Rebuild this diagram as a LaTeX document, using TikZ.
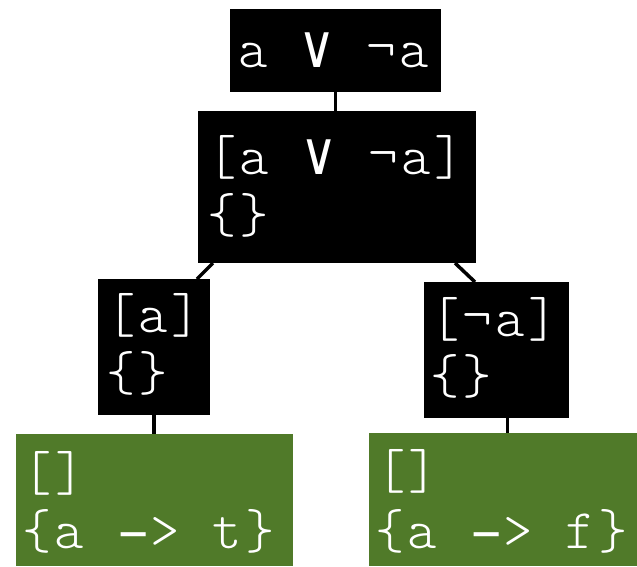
\documentclass[tikz,border=0pt]{standalone}
\usepackage{fontspec}
\usepackage{graphicx}
\usetikzlibrary{calc}
\newfontfamily\monolt{lmmonolt10-regular.otf}[LetterSpace=6.4]
\newfontfamily\orfont{DejaVu Sans}
\newfontfamily\dashfont{DejaVu Sans}
\newcommand\mycell{33pt}
\newcommand\myor{\makebox[\mycell][c]{\orfont\fontsize{60pt}{60pt}\selectfont\scalebox{0.85}[1]{∨}}}
\newcommand\mydash{\makebox[\mycell][c]{\dashfont\fontsize{56pt}{56pt}\selectfont\scalebox{1.7}[0.9]{-}}}
\definecolor{leafgreen}{RGB}{80,122,41}
\begin{document}
\begin{tikzpicture}[x=1pt,y=-1pt,
  box/.style={fill=black, draw=none, inner sep=0pt, outer sep=0pt, anchor=north west},
  leaf/.style={box, fill=leafgreen},
  txt/.style={text=white, anchor=base west, inner sep=0pt, outer sep=0pt,
    font=\monolt\fontsize{56pt}{56pt}\selectfont},
  link/.style={line width=3.5pt, draw=black}]
\useasboundingbox (0,0) rectangle (637,566);
\node[box, minimum width=211pt, minimum height=83pt] (top) at (230,9) {};
\node[box, minimum width=278pt, minimum height=152pt] (mid) at (198,111) {};
\node[box, minimum width=112pt, minimum height=136pt] (lft) at (98,279) {};
\node[box, minimum width=145pt, minimum height=136pt] (rgt) at (424,282) {};
\node[leaf, minimum width=277pt, minimum height=132pt] (gl) at (16,434) {};
\node[leaf, minimum width=268pt, minimum height=133pt] (gr) at (369,433) {};
% texts
\node[txt] (t1) at (238,67) {a \myor{} ¬a};
\node[txt] (m1) at (207,174.5) {[a \myor{} ¬a]};
\node[txt] (m2) at (207,232) {\{\}};
\node[txt] (l1) at (106,332) {[a]};
\node[txt] (l2) at (106,390) {\{\}};
\node[txt] (r1) at (430,336) {[¬a]};
\node[txt] (r2) at (430,393) {\{\}};
\node[txt] (g1) at (23,490) {[]};
\node[txt] (g2) at (22,548) {\{a \mydash{}> t\}};
\node[txt] (h1) at (376,488) {[]};
\node[txt] (h2) at (375,548) {\{a \mydash{}> f\}};
% connectors
\draw[link] (top.south) -- (top.south |- mid.north);
\draw[link] ($(mid.south west)+(15,0)$) -- ($(lft.north east)+(-13,0)$);
\draw[link] ($(mid.south east)+(-21,0)$) -- ($(rgt.north west)+(51,0)$);
\draw[link] (lft.south) -- (lft.south |- gl.north);
\draw[link] ($(rgt.south)+(11,0)$) coordinate (rs) -- (rs |- gr.north);
\end{tikzpicture}
\end{document}
